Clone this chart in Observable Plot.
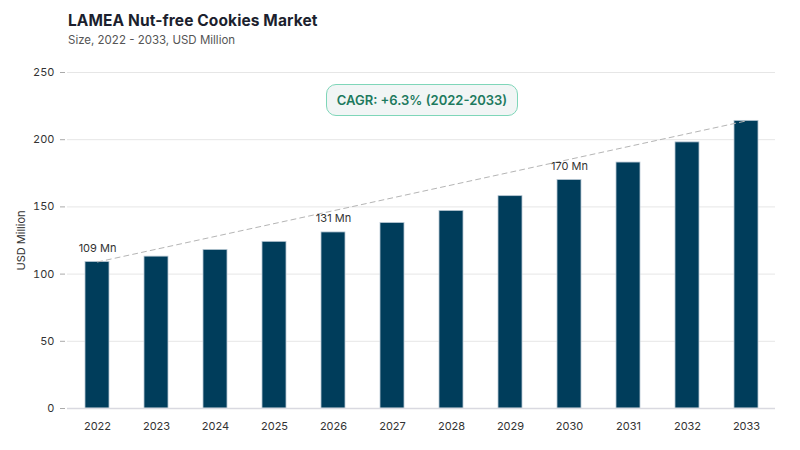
<!DOCTYPE html>
<html>
<head>
<meta charset="utf-8">
<script src="https://cdn.jsdelivr.net/npm/d3@7"></script>
<script src="https://cdn.jsdelivr.net/npm/@observablehq/plot@0.6"></script>
<style>
  html, body { margin: 0; padding: 0; background: #fff; }
  body { width: 800px; height: 450px; position: relative; overflow: hidden; font-family: Inter, "Noto Sans", sans-serif; }
  #title { position: absolute; left: 68px; top: 11px; font-size: 15.5px; font-weight: 700; color: #1c1f2e; letter-spacing: 0.1px; }
  #subtitle { position: absolute; left: 68px; top: 33px; font-size: 11.5px; color: #555; }
  #chart { position: absolute; left: 0; top: 60px; }
  #cagr { position: absolute; left: 326px; top: 84px; width: 192px; height: 32px; box-sizing: border-box;
          border: 1.5px solid #7fd6b9; border-radius: 10px; background: #f1f5f5; color: #1d7a5e;
          font-size: 13px; font-weight: 600; display: flex; align-items: center; justify-content: center; }
</style>
</head>
<body>
<div id="title">LAMEA Nut-free Cookies Market</div>
<div id="subtitle">Size, 2022 - 2033, USD Million</div>
<div id="chart"></div>
<div id="cagr">CAGR: +6.3% (2022-2033)</div>
<script>
const years = ["2022","2023","2024","2025","2026","2027","2028","2029","2030","2031","2032","2033"];
const values = [109, 113, 118, 124, 131, 138, 147, 158, 170, 183, 198, 214];
const labelYears = ["2022", "2026", "2030"];
const labelTexts = ["109 Mn", "131 Mn", "170 Mn"];
const yTicks = [0, 50, 100, 150, 200, 250];

const data = years.map((y, i) => ({year: y, value: values[i]}));
const labels = labelYears.map((y, i) => ({year: y, value: values[years.indexOf(y)], text: labelTexts[i]}));
const trend = [
  {year: years[0], value: values[0]},
  {year: years[years.length - 1], value: values[values.length - 1]}
];

const chart = Plot.plot({
  width: 800,
  height: 390,
  marginLeft: 67,
  marginRight: 25,
  marginTop: 12,
  marginBottom: 42,
  style: {fontFamily: "Inter, 'Noto Sans', sans-serif", fontSize: "11px", color: "#333", background: "transparent"},
  x: {domain: years, paddingInner: 0.6, paddingOuter: 0.3},
  y: {domain: [0, 250]},
  marks: [
    Plot.gridY(yTicks, {stroke: "#e6e6e6", strokeOpacity: 1}),
    Plot.ruleX([0], {frameAnchor: "left", stroke: "#d0d0d0"}),
    Plot.axisX({label: null, tickSize: 0, tickPadding: 14, fill: "#333"}),
    Plot.axisY(yTicks, {label: "USD Million", labelAnchor: "center", labelArrow: "none", labelOffset: 50,
      tickSize: 5, tickPadding: 6, stroke: "#aaa", fill: "#333", dx: -2}),
    Plot.barY(data, {x: "year", y: "value", fill: "#003d5b", stroke: "#b8c8d4", strokeWidth: 0.8}),
    Plot.ruleY([0], {stroke: "#d9d9e0", strokeWidth: 1.5}),
    Plot.line(trend, {x: "year", y: "value", stroke: "#b5b5b5", strokeWidth: 1, strokeDasharray: "5,4"}),
    Plot.text(labels, {x: "year", y: "value", text: "text", dy: -14, fill: "#333", fontSize: 11})
  ]
});
document.getElementById("chart").appendChild(chart);
</script>
</body>
</html>
